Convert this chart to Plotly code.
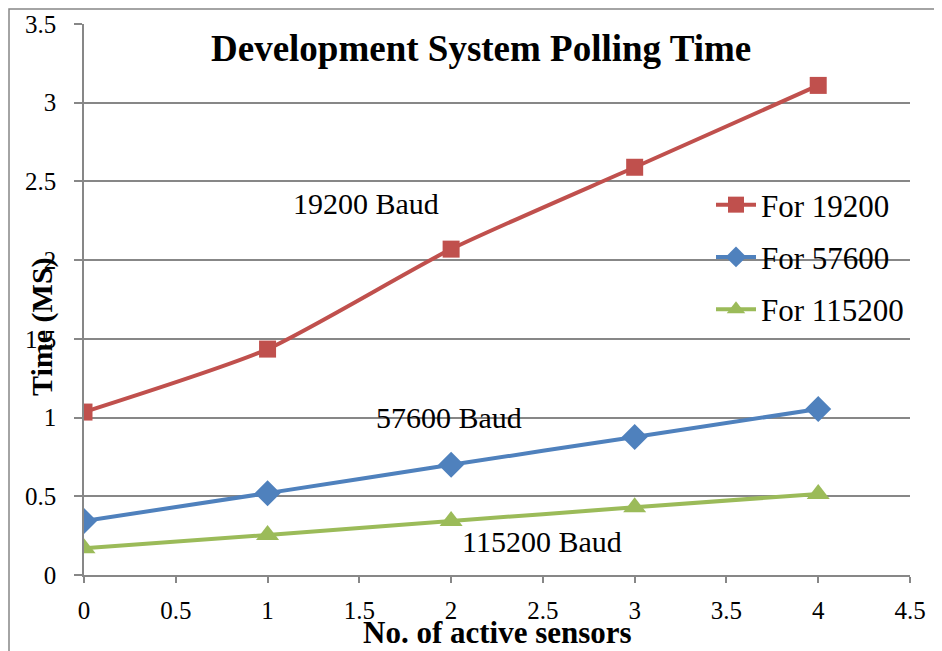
import plotly.graph_objects as go

sensors = [0, 1, 2, 3, 4]
t19200 = [1.035, 1.435, 2.07, 2.59, 3.11]
t57600 = [0.343, 0.52, 0.70, 0.877, 1.054]
t115200 = [0.17, 0.254, 0.343, 0.43, 0.515]
series_names = ["For 19200", "For 57600", "For 115200"]
x_ticks = [0, 0.5, 1, 1.5, 2, 2.5, 3, 3.5, 4, 4.5]
x_tick_text = ["0", "0.5", "1", "1.5", "2", "2.5", "3", "3.5", "4", "4.5"]
y_ticks = [0, 0.5, 1, 1.5, 2, 2.5, 3, 3.5]
y_tick_text = ["0", "0.5", "1", "1.5", "2", "2.5", "3", "3.5"]

FONT = "Liberation Serif, Times New Roman, serif"
GRID = "#878787"

fig = go.Figure()
styles = [
    (t19200, "#C0504D", "square", 17),
    (t57600, "#4F81BD", "diamond", 20),
    (t115200, "#9BBB59", "triangle-up", 20),
]
for i, (vals, col, sym, sz) in enumerate(styles):
    fig.add_trace(go.Scatter(
        x=sensors, y=vals, name=series_names[i], mode="lines+markers",
        line=dict(color=col, width=4, shape="spline", smoothing=0.6),
        marker=dict(color=col, symbol=sym, size=sz, line=dict(width=0)),
        legendgroup=str(i),
    ))

# page offset from default body margin
OFF = 8
# plot area in page pixels
PL, PR, PT, PB = 84, 910, 24, 575
W, H = 934, 643
L, T = PL - OFF, PT - OFF
R = W - (PR - OFF)
B = H - (PB - OFF)
pw, ph = PR - PL, PB - PT

def px(xp):
    return (xp - PL) / pw

def py(yp):
    return (PB - yp) / ph

def label(text, x, y, size, angle=0):
    return dict(text=text, xref="paper", yref="paper", x=px(x), y=py(y),
                xanchor="center", yanchor="middle", showarrow=False,
                textangle=angle, font=dict(size=size, family=FONT, color="black"))

fig.update_layout(
    width=W, height=H,
    margin=dict(l=L, r=R, t=T, b=B, autoexpand=False),
    paper_bgcolor="white", plot_bgcolor="white",
    font=dict(family=FONT, color="black"),
    showlegend=True,
    legend=dict(x=px(711), y=py(178), xanchor="left", yanchor="top",
                font=dict(size=31, family=FONT, color="black"), tracegroupgap=9,
                bgcolor="rgba(0,0,0,0)", itemwidth=40),
    xaxis=dict(range=[0, 4.5], tickvals=x_ticks, ticktext=x_tick_text, automargin=False,
               showgrid=False, zeroline=False, showline=True, linecolor=GRID, linewidth=1.5,
               ticks="outside", ticklen=6, tickcolor=GRID, tickwidth=1.5,
               tickfont=dict(size=25, family=FONT, color="black"), ticklabelstandoff=6),
    yaxis=dict(range=[0, 3.5], tickvals=y_ticks, ticktext=y_tick_text, automargin=False,
               showgrid=True, gridcolor=GRID, gridwidth=1.5, zeroline=False,
               showline=True, linecolor=GRID, linewidth=1.5,
               ticks="outside", ticklen=8, tickcolor=GRID, tickwidth=1.5,
               tickfont=dict(size=25, family=FONT, color="black"), ticklabelstandoff=13),
    shapes=[dict(type="rect", xref="paper", yref="paper",
                 x0=px(9), x1=px(940), y0=py(652), y1=py(9),
                 line=dict(color=GRID, width=1.5), layer="below")],
    annotations=[
        label("<b>Development System Polling Time</b>", 481, 48, 37),
        label("19200 Baud", 366, 203, 30),
        label("57600 Baud", 449, 417, 30),
        label("115200 Baud", 542, 541, 30),
        label("<b>Time (MS)</b>", 42, 327, 30, angle=-90),
        label("<b>No. of active sensors</b>", 497, 633, 31),
    ],
)

fig.write_html("out.html")
